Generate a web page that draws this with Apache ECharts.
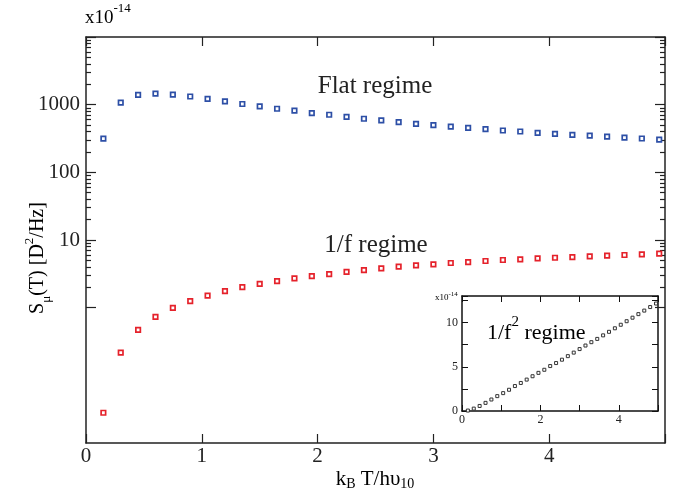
<!DOCTYPE html>
<html>
<head>
<meta charset="utf-8">
<script src="https://cdn.jsdelivr.net/npm/echarts@6/dist/echarts.min.js"></script>
<style>
  html, body { margin: 0; padding: 0; background: #fff; }
  #main { width: 677px; height: 494px; }
</style>
</head>
<body>
<div id="main"></div>
<script>
// k_B T / h nu_10
const xVals = [0.15, 0.30, 0.45, 0.60, 0.75, 0.90, 1.05, 1.20, 1.35, 1.50, 1.65, 1.80, 1.95, 2.10, 2.25, 2.40, 2.55,
  2.70, 2.85, 3.00, 3.15, 3.30, 3.45, 3.60, 3.75, 3.90, 4.05, 4.20, 4.35, 4.50, 4.65, 4.80, 4.95];
// Flat regime (x10^-14)
const flatVals = [314, 1075, 1392, 1458, 1408, 1320, 1214, 1121, 1023, 944, 871, 814, 751, 710, 662, 619, 585,
  552, 521, 497, 475, 455, 434, 415, 401, 383, 370, 357, 349, 338, 326, 316, 305];
// 1/f regime
const oneOverFVals = [0.028, 0.217, 0.469, 0.731, 0.993, 1.25, 1.51, 1.75, 2.01, 2.25, 2.47, 2.71, 2.93, 3.14, 3.37,
  3.59, 3.80, 4.03, 4.22, 4.37, 4.57, 4.72, 4.89, 5.06, 5.18, 5.36, 5.47, 5.60, 5.73, 5.86, 6.00, 6.13, 6.27];
// 1/f^2 regime (inset)
const oneOverF2Vals = [0.05, 0.27, 0.57, 0.92, 1.30, 1.68, 2.02, 2.40, 2.82, 3.17, 3.55, 3.93, 4.31, 4.66, 5.08,
  5.42, 5.80, 6.20, 6.60, 7.00, 7.40, 7.78, 8.15, 8.55, 8.95, 9.35, 9.75, 10.15, 10.55, 10.95, 11.35, 11.75, 12.15];

const xLabels = [0, 1, 2, 3, 4];
const yLabels = [10, 100, 1000];
const yMajor = [1, 10, 100, 1000, 10000];
const insetXLabels = [0, 2, 4];
const insetYLabels = [0, 5, 10];

// log minor ticks 2..9 in every decade from 1 to 10000
const yMinor = [];
yMajor.slice(0, -1).forEach(d => {
  for (let m = 2; m <= 9; m++) yMinor.push(m * d);
});

const serif = 'Liberation Serif';
const frame = '#222';

const chart = echarts.init(document.getElementById('main'), null, { renderer: 'canvas' });

function pairs(ys) {
  return xVals.map((x, i) => [x, ys[i]]);
}

function mainX(pos) {
  return {
    type: 'value', gridIndex: 0, position: pos, min: 0, max: 5, interval: 1,
    axisLine: { onZero: false, lineStyle: { color: frame, width: 1.5 } },
    axisTick: { inside: true, length: 9, lineStyle: { color: frame, width: 1.2 } },
    axisLabel: {
      show: pos === 'bottom', margin: 3, color: '#222', fontFamily: serif, fontSize: 21,
      formatter: v => (xLabels.indexOf(v) >= 0 ? String(v) : '')
    },
    splitLine: { show: false }
  };
}

function mainY(pos, minor) {
  return {
    type: 'log', logBase: 10, gridIndex: 0, position: pos, min: 0.01, max: 10000,
    axisLine: { show: !minor, onZero: false, lineStyle: { color: frame, width: 1.5 } },
    axisTick: {
      inside: true, length: minor ? 5 : 10, customValues: minor ? yMinor : yMajor,
      lineStyle: { color: frame, width: 1.2 }
    },
    axisLabel: {
      show: pos === 'left' && !minor, margin: 6, color: '#222', fontFamily: serif, fontSize: 21,
      customValues: yLabels,
      formatter: v => String(Math.round(v))
    },
    splitLine: { show: false }
  };
}

function insetX(pos) {
  return {
    type: 'value', gridIndex: 1, position: pos, min: 0, max: 5, interval: 1,
    axisLine: { onZero: false, lineStyle: { color: '#111', width: 1.5 } },
    axisTick: { inside: true, length: 6, lineStyle: { color: '#111', width: 1 } },
    axisLabel: {
      show: pos === 'bottom', margin: 3, color: '#222', fontFamily: serif, fontSize: 12,
      formatter: v => (insetXLabels.indexOf(v) >= 0 ? String(v) : '')
    },
    splitLine: { show: false }
  };
}

function insetY(pos) {
  return {
    type: 'value', gridIndex: 1, position: pos, min: 0, max: 13, interval: 2.5,
    axisLine: { onZero: false, lineStyle: { color: '#111', width: 1.5 } },
    axisTick: { inside: true, length: 6, lineStyle: { color: '#111', width: 1 } },
    axisLabel: {
      show: pos === 'left', margin: 4, color: '#222', fontFamily: serif, fontSize: 12,
      formatter: v => (insetYLabels.indexOf(v) >= 0 ? String(v) : '')
    },
    splitLine: { show: false }
  };
}

function squares(name, xi, yi, ys, color, size, bw) {
  return {
    name: name, type: 'scatter', xAxisIndex: xi, yAxisIndex: yi,
    symbol: 'rect', symbolSize: size, data: pairs(ys), silent: true, animation: false,
    itemStyle: { color: '#fff', borderColor: color, borderWidth: bw, opacity: 1 }
  };
}

// rich text helpers: main glyphs centred in a tall box, sup on top, sub at bottom
function main(size, lh) {
  return { fontFamily: serif, fontSize: size, lineHeight: lh, verticalAlign: 'middle', color: '#222' };
}
function sup(size) {
  return { fontFamily: serif, fontSize: size, lineHeight: size, verticalAlign: 'top', color: '#222' };
}
function sub(size) {
  return { fontFamily: serif, fontSize: size, lineHeight: size, verticalAlign: 'bottom', color: '#222' };
}

chart.setOption({
  backgroundColor: '#fff',
  animation: false,
  grid: [
    { left: 86, top: 37, width: 579, height: 406 },
    { left: 462, top: 296, width: 196, height: 115, backgroundColor: '#fff', show: true, borderWidth: 0 }
  ],
  xAxis: [mainX('bottom'), mainX('top'), insetX('bottom'), insetX('top')],
  yAxis: [mainY('left', false), mainY('left', true), mainY('right', false), mainY('right', true),
    insetY('left'), insetY('right')],
  series: [
    squares('Flat regime', 0, 0, flatVals, '#2d4fa6', 4.5, 1.7),
    squares('1/f regime', 0, 0, oneOverFVals, '#e5222b', 4.5, 1.7),
    squares('1/f^2 regime', 2, 4, oneOverF2Vals, '#333', 3, 1)
  ],
  graphic: [
    {
      type: 'text', left: 85, top: 2,
      style: { text: '{a|x10}{s|-14}', rich: { a: main(19, 32), s: sup(13) } }
    },
    {
      type: 'text', left: 435, top: 291,
      style: { text: '{a|x10}{s|-14}', rich: { a: main(9, 14), s: sup(7) } }
    },
    {
      type: 'text', x: 375, y: 86,
      style: { text: 'Flat regime', fontFamily: serif, fontSize: 25, fill: '#222', align: 'center', verticalAlign: 'middle' }
    },
    {
      type: 'text', x: 376, y: 245,
      style: { text: '1/f regime', fontFamily: serif, fontSize: 25, fill: '#222', align: 'center', verticalAlign: 'middle' }
    },
    {
      type: 'text', left: 487, top: 315, z: 100,
      style: { text: '{a|1/f}{s|2}{a| regime}', rich: { a: main(22, 36), s: sup(15) } }
    },
    {
      type: 'text', x: 375, y: 479,
      style: {
        text: '{a|k}{b|B}{a| T/h\u03c5}{b|10}', align: 'center', verticalAlign: 'middle',
        rich: { a: main(21, 24), b: sub(14) }
      }
    },
    {
      type: 'text', x: 38, y: 258, rotation: Math.PI / 2,
      style: {
        text: '{a|S}{b|\u03bc}{a|(T) [D}{s|2}{a|/Hz]}', align: 'center', verticalAlign: 'middle',
        rich: { a: main(20, 30), b: sub(13), s: sup(13) }
      }
    }
  ]
});
</script>
</body>
</html>
